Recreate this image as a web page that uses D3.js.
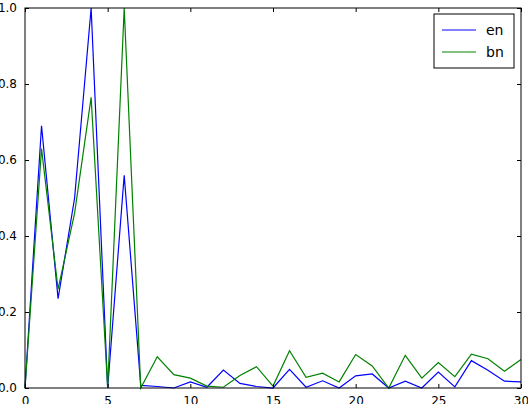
<!DOCTYPE html>
<html><head><meta charset="utf-8">
<script src="https://d3js.org/d3.v7.min.js"></script>
<style>body{margin:0;background:#fff}text{font-family:"DejaVu Sans";font-size:12px}</style>
</head><body><svg width="528" height="404"></svg>
<script>
var xs = d3.range(0, 31);
var en = [0, 0.69, 0.235, 0.5, 1.0, 0, 0.56, 0.007, 0.004, 0, 0.016, 0.002, 0.047, 0.012, 0.004, 0,
  0.049, 0.002, 0.019, 0, 0.032, 0.037, 0, 0.018, 0, 0.042, 0.003, 0.072, 0.047, 0.018, 0.016];
var bn = [0, 0.63, 0.26, 0.46, 0.765, 0, 1.0, 0, 0.082, 0.035, 0.026, 0.005, 0.002, 0.033, 0.056, 0.005,
  0.098, 0.028, 0.039, 0.016, 0.088, 0.058, 0, 0.086, 0.026, 0.067, 0.03, 0.089, 0.077, 0.044, 0.075];
var xTicks = [0, 5, 10, 15, 20, 25, 30];
var yTicks = [0, 0.2, 0.4, 0.6, 0.8, 1.0];
var series = [{name: 'en', vals: en, color: '#0000ff'}, {name: 'bn', vals: bn, color: '#008000'}];

var L = 25, R = 521, T = 8, B = 388;
var svg = d3.select('svg');
var x = d3.scaleLinear().domain([0, 30]).range([L, R]);
var y = d3.scaleLinear().domain([0, 1]).range([B, T]);

var line = d3.line().x(function(d, i) { return x(xs[i]); }).y(function(d) { return y(d); });
series.forEach(function(s) {
  svg.append('path').attr('d', line(s.vals)).attr('fill', 'none')
    .attr('stroke', s.color).attr('stroke-width', 1.2);
});

function ax(g, a) { g.call(a); g.select('.domain').remove(); g.selectAll('text').attr('fill', '#000').style('font-size', '12px'); g.selectAll('line').attr('stroke', '#000'); }
ax(svg.append('g').attr('transform', 'translate(0,' + B + ')'),
  d3.axisBottom(x).tickValues(xTicks).tickSizeInner(-4).tickSizeOuter(0).tickPadding(8));
ax(svg.append('g').attr('transform', 'translate(0,' + T + ')'),
  d3.axisTop(x).tickValues(xTicks).tickSizeInner(-4).tickSizeOuter(0).tickFormat(''));
ax(svg.append('g').attr('transform', 'translate(' + L + ',0)'),
  d3.axisLeft(y).tickValues(yTicks).tickSizeInner(-4).tickSizeOuter(0).tickPadding(8).tickFormat(d3.format('.1f')));
ax(svg.append('g').attr('transform', 'translate(' + R + ',0)'),
  d3.axisRight(y).tickValues(yTicks).tickSizeInner(-4).tickSizeOuter(0).tickFormat(''));

svg.append('rect').attr('x', L).attr('y', T).attr('width', R - L).attr('height', B - T)
  .attr('fill', 'none').attr('stroke', '#000');

var lg = svg.append('g').attr('transform', 'translate(434,14)');
lg.append('rect').attr('width', 80).attr('height', 54).attr('fill', '#fff').attr('stroke', '#000');
series.forEach(function(s, i) {
  var yy = 16 + i * 22;
  lg.append('line').attr('x1', 8).attr('x2', 42).attr('y1', yy).attr('y2', yy).attr('stroke', s.color);
  lg.append('text').attr('x', 52).attr('y', yy + 5).text(s.name).style('font-size', '14px');
});
</script></body></html>
